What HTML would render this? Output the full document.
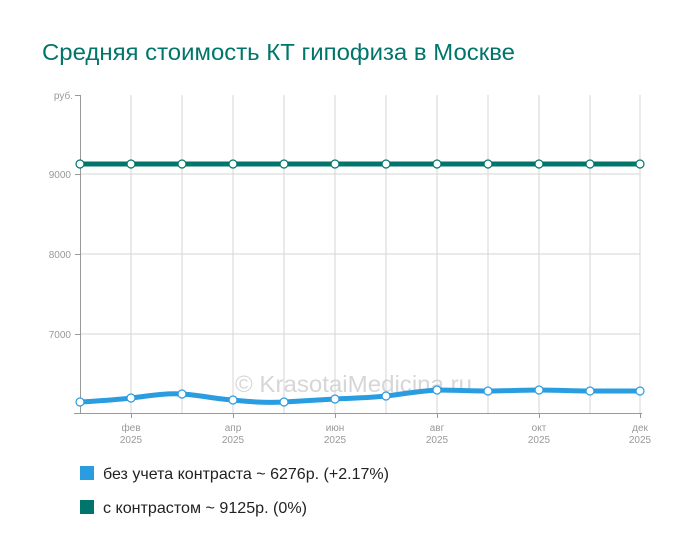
<!DOCTYPE html>
<html><head><meta charset="utf-8"><style>
body{margin:0;background:#fff;}
svg{display:block;font-family:"Liberation Sans",Arial,sans-serif;}
</style></head><body>
<svg width="700" height="557" viewBox="0 0 700 557" xmlns="http://www.w3.org/2000/svg">
<rect width="700" height="557" fill="#fff"/>
<text x="42" y="60" font-size="23" fill="#00756b" textLength="473" lengthAdjust="spacingAndGlyphs">Средняя стоимость КТ гипофиза в Москве</text>
<g stroke="#d6d6d6" stroke-width="1">
<line x1="131" y1="95" x2="131" y2="413"/><line x1="182" y1="95" x2="182" y2="413"/>
<line x1="233" y1="95" x2="233" y2="413"/><line x1="284" y1="95" x2="284" y2="413"/>
<line x1="335" y1="95" x2="335" y2="413"/><line x1="386" y1="95" x2="386" y2="413"/>
<line x1="437" y1="95" x2="437" y2="413"/><line x1="488" y1="95" x2="488" y2="413"/>
<line x1="539" y1="95" x2="539" y2="413"/><line x1="590" y1="95" x2="590" y2="413"/>
<line x1="640" y1="95" x2="640" y2="413"/>
<line x1="80" y1="174" x2="640" y2="174"/><line x1="80" y1="254" x2="640" y2="254"/><line x1="80" y1="334" x2="640" y2="334"/>
</g>
<g stroke="#999" stroke-width="1">
<line x1="80.5" y1="95" x2="80.5" y2="413"/><line x1="75" y1="95.5" x2="80" y2="95.5"/>
<line x1="75" y1="174.5" x2="80" y2="174.5"/><line x1="75" y1="254.5" x2="80" y2="254.5"/><line x1="75" y1="334.5" x2="80" y2="334.5"/>
<line x1="74" y1="413.5" x2="642" y2="413.5"/>
<line x1="131.5" y1="413" x2="131.5" y2="418"/><line x1="233.5" y1="413" x2="233.5" y2="418"/><line x1="335.5" y1="413" x2="335.5" y2="418"/><line x1="437.5" y1="413" x2="437.5" y2="418"/><line x1="539.5" y1="413" x2="539.5" y2="418"/><line x1="640.5" y1="413" x2="640.5" y2="418"/>
</g>
<g font-size="10" fill="#999" text-anchor="end">
<text x="73" y="99">руб.</text><text x="71" y="178">9000</text><text x="71" y="258">8000</text><text x="71" y="338">7000</text>
</g>
<g font-size="10" fill="#999" text-anchor="middle">
<text x="131" y="431">фев</text><text x="131" y="443">2025</text>
<text x="233" y="431">апр</text><text x="233" y="443">2025</text>
<text x="335" y="431">июн</text><text x="335" y="443">2025</text>
<text x="437" y="431">авг</text><text x="437" y="443">2025</text>
<text x="539" y="431">окт</text><text x="539" y="443">2025</text>
<text x="640" y="431">дек</text><text x="640" y="443">2025</text>
</g>
<text x="235" y="392" font-size="23" fill="#ccc" fill-opacity="0.8" textLength="237" lengthAdjust="spacingAndGlyphs">© KrasotaiMedicina.ru</text>
<line x1="80" y1="164" x2="640" y2="164" stroke="#00756b" stroke-width="5"/>
<path d="M80,402 C97,401 114,400 131,398 C148,396 165,393 182,394 C199,395 216,399 233,400 C250,402 267,403 284,402 C301,401 318,400 335,399 C352,398 369,398 386,396 C403,394 420,391 437,390 C454,390 471,391 488,391 C505,391 522,390 539,390 C556,390 573,391 590,391 L640,391" fill="none" stroke="#2a9ce0" stroke-width="5"/>
<g fill="#fff" stroke="#00756b" stroke-width="1.2">
<circle cx="80" cy="164" r="4"/><circle cx="131" cy="164" r="4"/><circle cx="182" cy="164" r="4"/><circle cx="233" cy="164" r="4"/><circle cx="284" cy="164" r="4"/><circle cx="335" cy="164" r="4"/><circle cx="386" cy="164" r="4"/><circle cx="437" cy="164" r="4"/><circle cx="488" cy="164" r="4"/><circle cx="539" cy="164" r="4"/><circle cx="590" cy="164" r="4"/><circle cx="640" cy="164" r="4"/>
</g>
<g fill="#fff" stroke="#2a9ce0" stroke-width="1.2">
<circle cx="80" cy="402" r="4"/><circle cx="131" cy="398" r="4"/><circle cx="182" cy="394" r="4"/><circle cx="233" cy="400" r="4"/><circle cx="284" cy="402" r="4"/><circle cx="335" cy="399" r="4"/><circle cx="386" cy="396" r="4"/><circle cx="437" cy="390" r="4"/><circle cx="488" cy="391" r="4"/><circle cx="539" cy="390" r="4"/><circle cx="590" cy="391" r="4"/><circle cx="640" cy="391" r="4"/>
</g>
<rect x="80" y="466" width="14" height="14" fill="#2a9ce0"/>
<text x="103" y="479" font-size="16" fill="#222" textLength="286" lengthAdjust="spacingAndGlyphs">без учета контраста ~ 6276р. (+2.17%)</text>
<rect x="80" y="500" width="14" height="14" fill="#00756b"/>
<text x="103" y="513" font-size="16" fill="#222" textLength="204" lengthAdjust="spacingAndGlyphs">с контрастом ~ 9125р. (0%)</text>
</svg>
</body></html>
